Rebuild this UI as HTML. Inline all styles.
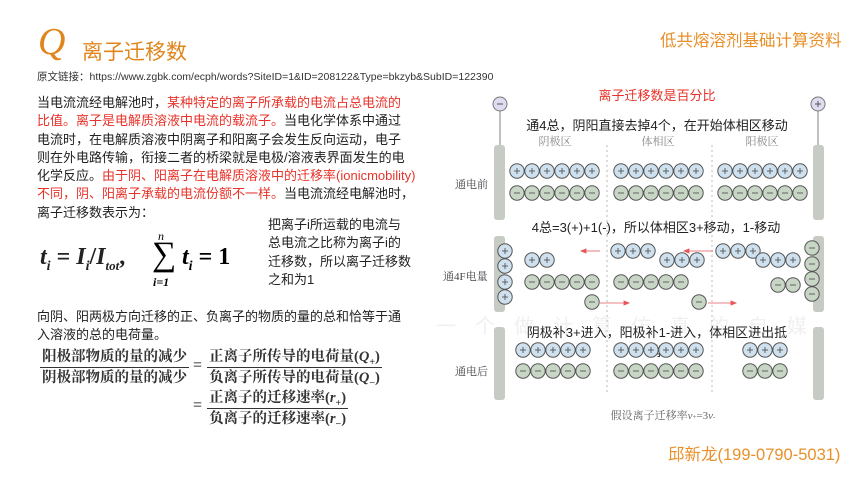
<!DOCTYPE html>
<html><head><meta charset="utf-8">
<style>
body{margin:0;width:860px;height:484px;overflow:hidden;background:#fff;position:relative;font-family:"Liberation Sans","Noto Sans CJK SC",sans-serif;}
.a{position:absolute;white-space:nowrap;}
.p{position:absolute;left:37px;top:94px;font-size:13px;line-height:18.3px;color:#222;white-space:nowrap;}
.r{color:#e8332a;}
.side{position:absolute;left:268px;top:216px;font-size:13px;line-height:18.3px;color:#222;white-space:nowrap;}
.ser{font-family:"Liberation Serif","Noto Serif CJK SC",serif;}
.fr sub{line-height:0;font-size:10px;}
.fr div{height:20px;line-height:20px;}
</style></head><body>
<div class="a" style="left:436px;top:310px;font-size:20px;letter-spacing:19px;color:#f0f0f0;">一个做计算仿真的自媒</div>
<div class="a ser" style="left:38px;top:20px;font-size:38px;font-style:italic;color:#e0841c;">Q</div>
<div class="a" style="left:82px;top:36px;font-size:21px;color:#e0841c;">离子迁移数</div>
<div class="a" style="left:660px;top:27px;font-size:16.5px;color:#e8902a;">低共熔溶剂基础计算资料</div>
<div class="a" style="left:37px;top:69px;font-size:10.5px;color:#333;">原文链接：https://www.zgbk.com/ecph/words?SiteID=1&amp;ID=208122&amp;Type=bkzyb&amp;SubID=122390</div>
<div class="p">当电流流经电解池时，<span class="r">某种特定的离子所承载的电流占总电流的<br>比值。离子是电解质溶液中电流的载流子。</span>当电化学体系中通过<br>电流时，在电解质溶液中阴离子和阳离子会发生反向运动，电子<br>则在外电路传输，衔接二者的桥梁就是电极/溶液表界面发生的电<br>化学反应。<span class="r">由于阴、阳离子在电解质溶液中的迁移率(ionicmobility)<br>不同，阴、阳离子承载的电流份额不一样。</span>当电流流经电解池时，<br>离子迁移数表示为：</div>
<div class="a ser" style="left:40px;top:244px;font-size:24px;font-weight:bold;color:#222;"><i>t<sub style="font-size:14px">i</sub></i> = <i>I<sub style="font-size:14px">i</sub></i>/<i>I<sub style="font-size:13px">tot</sub></i>,</div>
<div class="a ser" style="left:158px;top:229px;font-size:12px;font-style:italic;">n</div>
<div class="a ser" style="left:152px;top:236px;font-size:34px;">∑</div>
<div class="a ser" style="left:153px;top:275px;font-size:12px;font-style:italic;font-weight:bold">i=1</div>
<div class="a ser" style="left:182px;top:244px;font-size:24px;font-weight:bold;"><i>t<sub style="font-size:14px">i</sub></i> = 1</div>
<div class="side">把离子i所运载的电流与<br>总电流之比称为离子i的<br>迁移数，所以离子迁移数<br>之和为1</div>
<div class="p" style="top:308px;">向阴、阳两极方向迁移的正、负离子的物质的量的总和恰等于通<br>入溶液的总的电荷量。</div>
<div class="a ser fr" style="left:40px;top:347px;font-size:14.5px;font-weight:bold;color:#333;">
<div style="border-bottom:1.3px solid #333;padding:0 2px">阳极部物质的量的减少</div><div style="padding:0 2px">阴极部物质的量的减少</div></div>
<div class="a ser" style="left:193px;top:357px;font-size:16px;">=</div>
<div class="a ser fr" style="left:207px;top:347px;font-size:14.5px;font-weight:bold;color:#333;">
<div style="border-bottom:1.3px solid #333;padding:0 2px">正离子所传导的电荷量(<i>Q</i><sub>+</sub>)</div><div style="padding:0 2px">负离子所传导的电荷量(<i>Q</i><sub>−</sub>)</div></div>
<div class="a ser" style="left:193px;top:397px;font-size:16px;">=</div>
<div class="a ser fr" style="left:207px;top:388px;font-size:14.5px;font-weight:bold;color:#333;">
<div style="border-bottom:1.3px solid #333;padding:0 2px">正离子的迁移速率(<i>r</i><sub>+</sub>)</div><div style="padding:0 2px">负离子的迁移速率(<i>r</i><sub>−</sub>)</div></div>
<div class="a" style="left:668px;top:441px;font-size:16.5px;color:#e8902a;">邱新龙(199-0790-5031)</div>

<svg id="d" width="860" height="484" style="position:absolute;left:0;top:0" xmlns="http://www.w3.org/2000/svg">
<g font-family="Liberation Serif,Noto Serif CJK SC,serif" font-size="11" fill="#444">
<text x="455" y="188">通电前</text><text x="443" y="280">通4F电量</text><text x="455" y="375">通电后</text>
</g>
<text x="657" y="100" text-anchor="middle" font-size="13" fill="#e8332a" font-family="Liberation Sans,Noto Sans CJK SC,sans-serif">离子迁移数是百分比</text>
<g font-family="Liberation Sans,Noto Sans CJK SC,sans-serif" font-size="13" fill="#222" text-anchor="middle">
<text x="657" y="130">通4总，阴阳直接去掉4个，在开始体相区移动</text>
<text x="656" y="232">4总=3(+)+1(-)，所以体相区3+移动，1-移动</text>
<text x="657" y="337">阴极补3+进入，阳极补1-进入，体相区进出抵</text>
<text x="655" y="356">消</text>
</g>
<g font-family="Liberation Serif,Noto Serif CJK SC,serif" font-size="11" fill="#888" text-anchor="middle">
<text x="555" y="145">阴极区</text><text x="658" y="145">体相区</text><text x="762" y="145">阳极区</text>
</g>
<text x="663" y="419" text-anchor="middle" font-size="11" fill="#666" font-family="Liberation Serif,Noto Serif CJK SC,serif">假设离子迁移率<tspan font-style="italic">v</tspan><tspan font-size="7">+</tspan>=3<tspan font-style="italic">v</tspan><tspan font-size="7">-</tspan></text>
<g stroke="#bbb" stroke-dasharray="2,3"><line x1="607" y1="145" x2="607" y2="392"/><line x1="712" y1="145" x2="712" y2="392"/></g>
<g stroke="#aaa" stroke-width="1.5"><line x1="500" y1="111" x2="500" y2="146"/><line x1="818" y1="111" x2="818" y2="146"/></g>
<circle cx="500" cy="104" r="7" fill="#e0dcf0" stroke="#777"/><line x1="497" y1="104" x2="503" y2="104" stroke="#555"/>
<circle cx="818" cy="104" r="7" fill="#e0dcf0" stroke="#777"/><path d="M815 104h6M818 101v6" stroke="#555"/>
<g fill="#c6cbc4">
<rect x="494" y="145" width="11" height="75" rx="3"/><rect x="813" y="145" width="11" height="75" rx="3"/>
<rect x="494" y="236" width="11" height="76" rx="3"/><rect x="813" y="236" width="11" height="76" rx="3"/>
<rect x="494" y="327" width="11" height="73" rx="3"/><rect x="813" y="327" width="11" height="73" rx="3"/>
</g>
<g stroke="#e8555a" fill="#e8555a" stroke-width="0.8">
<line x1="600" y1="251" x2="585" y2="251"/><path d="M581 251l5-2v4z"/>
<line x1="713" y1="251" x2="688" y2="251"/><path d="M684 251l5-2v4z"/>
<line x1="600" y1="303" x2="625" y2="303"/><path d="M629 303l-5-2v4z"/>
<line x1="708" y1="303" x2="732" y2="303"/><path d="M736 303l-5-2v4z"/>
</g>
<g id="ions"></g>
</svg>
<script>
var g=document.getElementById('ions'),s='';
function c(x,y,p){s+='<circle cx="'+x+'" cy="'+y+'" r="7.2" fill="'+(p?'#cfe1ee':'#c8d6c6')+'" stroke="#555" stroke-width="1"/>';
s+='<line x1="'+(x-3)+'" y1="'+y+'" x2="'+(x+3)+'" y2="'+y+'" stroke="#555" stroke-width="0.9"/>';
if(p)s+='<line x1="'+x+'" y1="'+(y-3)+'" x2="'+x+'" y2="'+(y+3)+'" stroke="#555" stroke-width="0.9"/>';}
function row(x,y,n,p){for(var i=0;i<n;i++)c(x+i*15,y,p);}
row(517,171,6,1);row(621,171,6,1);row(725,171,6,1);
row(517,193,6,0);row(621,193,6,0);row(725,193,6,0);
[251,266,282,297].forEach(function(y){c(505,y,1)});
[248,264,279,294].forEach(function(y){c(812,y,0)});
row(532,260,2,1);row(532,282,5,0);c(592,302,0);
row(618,251,3,1);row(667,260,3,1);row(621,282,5,0);c(699,302,0);
row(723,251,3,1);row(763,260,3,1);row(778,285,2,0);
row(523,350,5,1);row(621,350,6,1);row(750,350,3,1);
row(523,371,5,0);row(621,371,6,0);row(750,371,3,0);
g.innerHTML=s;
</script>
</body></html>
